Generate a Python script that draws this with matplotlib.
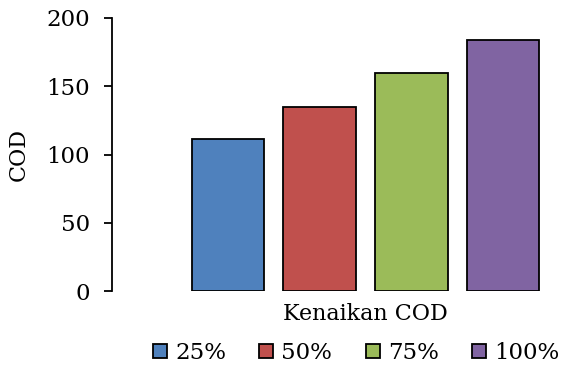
import matplotlib
matplotlib.use("Agg")
import matplotlib.pyplot as plt

# COD increase per scenario
labels = ["25%", "50%", "75%", "100%"]
values = [111, 135, 160, 184]
colors = ["#4F81BD", "#C0504D", "#9BBB59", "#8064A2"]
category = "Kenaikan COD"

plt.rcParams["font.family"] = ["DejaVu Serif"]

fig = plt.figure(figsize=(5.67, 3.67), dpi=100)
ax = fig.add_axes([112 / 567, 76 / 367, 446 / 567, 273 / 367])

for i in range(len(values)):
    ax.bar(i, values[i], width=0.79, color=colors[i], edgecolor="black",
           linewidth=1.3, label=labels[i])

ax.set_ylim(0, 200)
ax.set_xlim(-1.265, 3.6)
ax.set_yticks([0, 50, 100, 150, 200])
ax.set_xticks([1.5])
ax.set_xticklabels([category])
ax.set_ylabel("COD", fontsize=16, labelpad=12)

for side in ["top", "right", "bottom"]:
    ax.spines[side].set_visible(False)
ax.spines["left"].set_linewidth(1.3)
ax.tick_params(axis="y", direction="out", length=6, width=1.3, labelsize=16.5, pad=10)
ax.tick_params(axis="x", length=0, labelsize=16, pad=9)

fig.legend(loc="center", bbox_to_anchor=(0.628, 0.038), ncol=4, frameon=False,
           fontsize=16.5, handlelength=0.62, handleheight=0.62, handletextpad=0.35,
           columnspacing=1.45, borderpad=0)

fig.savefig("out.png", dpi=100)
